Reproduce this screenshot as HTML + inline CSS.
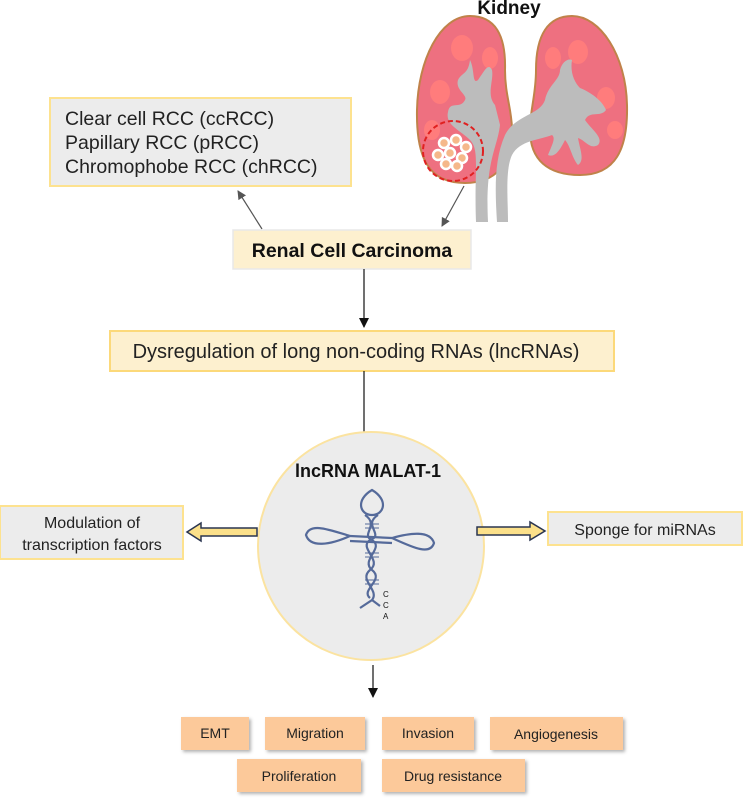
<!DOCTYPE html>
<html><head><meta charset="utf-8"><style>
body{margin:0;background:#fff;width:744px;height:803px;overflow:hidden;font-family:"Liberation Sans",Arial,sans-serif}
svg{position:absolute;left:0;top:0}
</style></head><body>
<svg width="744" height="803" viewBox="0 0 744 803" font-family="Liberation Sans, Arial, sans-serif">
<defs>
<marker id="ah" markerWidth="10" markerHeight="10" refX="9" refY="5" orient="auto" markerUnits="userSpaceOnUse"><path d="M0,0 L10,5 L0,10 z" fill="#111"/></marker>
<marker id="ah2" markerWidth="9" markerHeight="9" refX="8" refY="4.5" orient="auto" markerUnits="userSpaceOnUse"><path d="M0,0 L9,4.5 L0,9 z" fill="#555"/></marker>
<filter id="sh" x="-10%" y="-10%" width="130%" height="140%"><feDropShadow dx="2" dy="2" stdDeviation="1.5" flood-color="#000" flood-opacity="0.3"/></filter>
</defs>
<!-- Kidney -->
<text x="509" y="14" font-size="19" font-weight="bold" text-anchor="middle" fill="#111">Kidney</text>
<path d="M470,16 C440,16 418,60 417,110 C416,160 430,183 465,183 C495,183 512,165 512,130 C512,110 505,95 505,70 C506,35 495,16 470,16 Z" fill="#ee7080" stroke="#c0824a" stroke-width="2"/>
<path d="M572,16 C600,16 626,55 627,105 C628,150 615,175 580,175 C548,175 530,160 530,130 C530,110 536,95 536,70 C536,35 548,16 572,16 Z" fill="#ee7080" stroke="#c0824a" stroke-width="2"/>
<g fill="#ff7c7c">
<ellipse cx="462" cy="48" rx="11" ry="13"/><ellipse cx="490" cy="58" rx="8" ry="11"/><ellipse cx="440" cy="92" rx="10" ry="12"/><ellipse cx="432" cy="130" rx="8" ry="10"/>
<ellipse cx="578" cy="52" rx="10" ry="12"/><ellipse cx="606" cy="98" rx="9" ry="11"/><ellipse cx="615" cy="130" rx="8" ry="9"/><ellipse cx="553" cy="58" rx="8" ry="11"/>
</g>
<path d="M470,60 C475,70 472,85 478,80 C484,72 488,62 492,70 C494,80 486,95 495,105 L500,125 C497,150 485,160 488,222 L476,222 C474,170 480,150 470,140 C460,130 445,125 448,112 C450,100 460,110 465,100 C468,95 455,90 458,80 C462,72 468,75 470,60 Z" fill="#bcbcbc"/>
<path d="M572,60 C570,72 574,82 580,88 C590,92 602,100 606,110 C600,118 590,110 585,120 C592,130 604,138 598,145 C590,150 585,140 578,138 C580,150 585,160 578,165 C572,158 570,145 565,140 C560,150 555,158 548,155 C552,145 556,138 552,135 C540,140 520,140 512,155 C505,170 508,200 508,222 L497,222 C495,190 494,160 505,135 C515,115 540,115 545,100 C548,85 560,80 560,70 C562,62 568,58 572,60 Z" fill="#bcbcbc"/>
<circle cx="453" cy="151" r="30" fill="none" stroke="#e02020" stroke-width="2" stroke-dasharray="5,3"/>
<g fill="#f5b88a" stroke="#fff" stroke-width="2.5">
<circle cx="444" cy="143" r="5"/><circle cx="456" cy="140" r="5"/><circle cx="466" cy="147" r="5"/><circle cx="438" cy="155" r="5"/><circle cx="450" cy="153" r="5"/><circle cx="462" cy="158" r="5"/><circle cx="446" cy="164" r="5"/><circle cx="457" cy="166" r="5"/>
</g>
<!-- subtype box -->
<rect x="50" y="98" width="301" height="88" fill="#ececec" stroke="#fde28f" stroke-width="2"/>
<text font-size="19.5" fill="#222"><tspan x="65" y="125">Clear cell RCC (ccRCC)</tspan><tspan x="65" y="149">Papillary RCC (pRCC)</tspan><tspan x="65" y="173">Chromophobe RCC (chRCC)</tspan></text>
<line x1="262" y1="229" x2="238" y2="191" stroke="#555" stroke-width="1.2" marker-end="url(#ah2)"/>
<line x1="464" y1="186" x2="442" y2="226" stroke="#555" stroke-width="1.2" marker-end="url(#ah2)"/>
<!-- RCC -->
<rect x="233" y="230" width="238" height="39" fill="#fdf0cf" stroke="#e8e8e8" stroke-width="1.5"/>
<text x="352" y="257" font-size="19.5" font-weight="bold" text-anchor="middle" fill="#111">Renal Cell Carcinoma</text>
<line x1="364" y1="269" x2="364" y2="327" stroke="#111" stroke-width="1.2" marker-end="url(#ah)"/>
<!-- Dysreg -->
<rect x="110" y="331" width="504" height="40" fill="#fdf0cf" stroke="#fcd97a" stroke-width="2"/>
<text x="356" y="358" font-size="20" text-anchor="middle" fill="#222">Dysregulation of long non-coding RNAs (lncRNAs)</text>
<line x1="364" y1="371" x2="364" y2="452" stroke="#111" stroke-width="1.2" marker-end="url(#ah)"/>
<!-- Circle -->
<ellipse cx="371" cy="546" rx="113" ry="114" fill="#ececec" stroke="#fbe3a0" stroke-width="2"/>
<text x="368" y="477" font-size="18" font-weight="bold" text-anchor="middle" fill="#111">lncRNA MALAT-1</text>
<g fill="none" stroke="#556a9a" stroke-width="2.2">
<path d="M372,490 C355,500 360,515 372,515 C384,515 389,500 372,490 Z"/>
<path d="M306,535 C310,522 330,530 350,536 C330,545 310,548 306,535 Z"/>
<path d="M434,543 C430,530 410,533 392,538 C412,547 430,556 434,543 Z"/>
<path d="M365,515 C380,525 360,535 372,540 C385,548 360,560 372,570 C385,580 360,590 370,598" />
<path d="M378,515 C362,525 385,535 370,540 C358,548 383,560 370,570 C358,580 380,590 372,600 L360,608 M372,600 L380,606"/>
<path d="M350,536 L392,538 M350,541 L392,543"/>
</g>
<g stroke="#556a9a" stroke-width="1"><line x1="365" y1="524" x2="379" y2="524"/><line x1="365" y1="528" x2="379" y2="528"/><line x1="365" y1="553" x2="379" y2="553"/><line x1="365" y1="557" x2="379" y2="557"/><line x1="365" y1="580" x2="379" y2="580"/><line x1="365" y1="584" x2="379" y2="584"/></g>
<text font-size="8" fill="#111"><tspan x="383" y="597">C</tspan><tspan x="383" y="608">C</tspan><tspan x="383" y="619">A</tspan></text>
<!-- side boxes -->
<rect x="0" y="506" width="183" height="53" fill="#ececec" stroke="#fde28f" stroke-width="2"/>
<text font-size="16" text-anchor="middle" fill="#222"><tspan x="92" y="528">Modulation of</tspan><tspan x="92" y="550">transcription factors</tspan></text>
<rect x="548" y="512" width="194" height="33" fill="#ececec" stroke="#fde28f" stroke-width="2"/>
<text x="645" y="535" font-size="16" text-anchor="middle" fill="#222">Sponge for miRNAs</text>
<path d="M257,528 L201,528 L201,523 L187,532 L201,541 L201,536 L257,536 Z" fill="#fbe08a" stroke="#2a3550" stroke-width="1.5"/>
<path d="M477,527 L530,527 L530,522 L545,531 L530,540 L530,535 L477,535 Z" fill="#fbe08a" stroke="#2a3550" stroke-width="1.5"/>
<line x1="373" y1="665" x2="373" y2="697" stroke="#111" stroke-width="1.2" marker-end="url(#ah)"/>
<!-- bottom boxes -->
<g fill="#fcc99a" filter="url(#sh)">
<rect x="181" y="717" width="68" height="33"/><rect x="265" y="717" width="100" height="33"/><rect x="382" y="717" width="92" height="33"/><rect x="490" y="717" width="133" height="33"/>
<rect x="237" y="759" width="124" height="33"/><rect x="382" y="759" width="143" height="33"/>
</g>
<g font-size="14" text-anchor="middle" fill="#222">
<text x="215" y="738">EMT</text><text x="315" y="738">Migration</text><text x="428" y="738">Invasion</text><text x="556" y="739">Angiogenesis</text>
<text x="299" y="781">Proliferation</text><text x="453" y="781">Drug resistance</text>
</g>
</svg>
</body></html>
